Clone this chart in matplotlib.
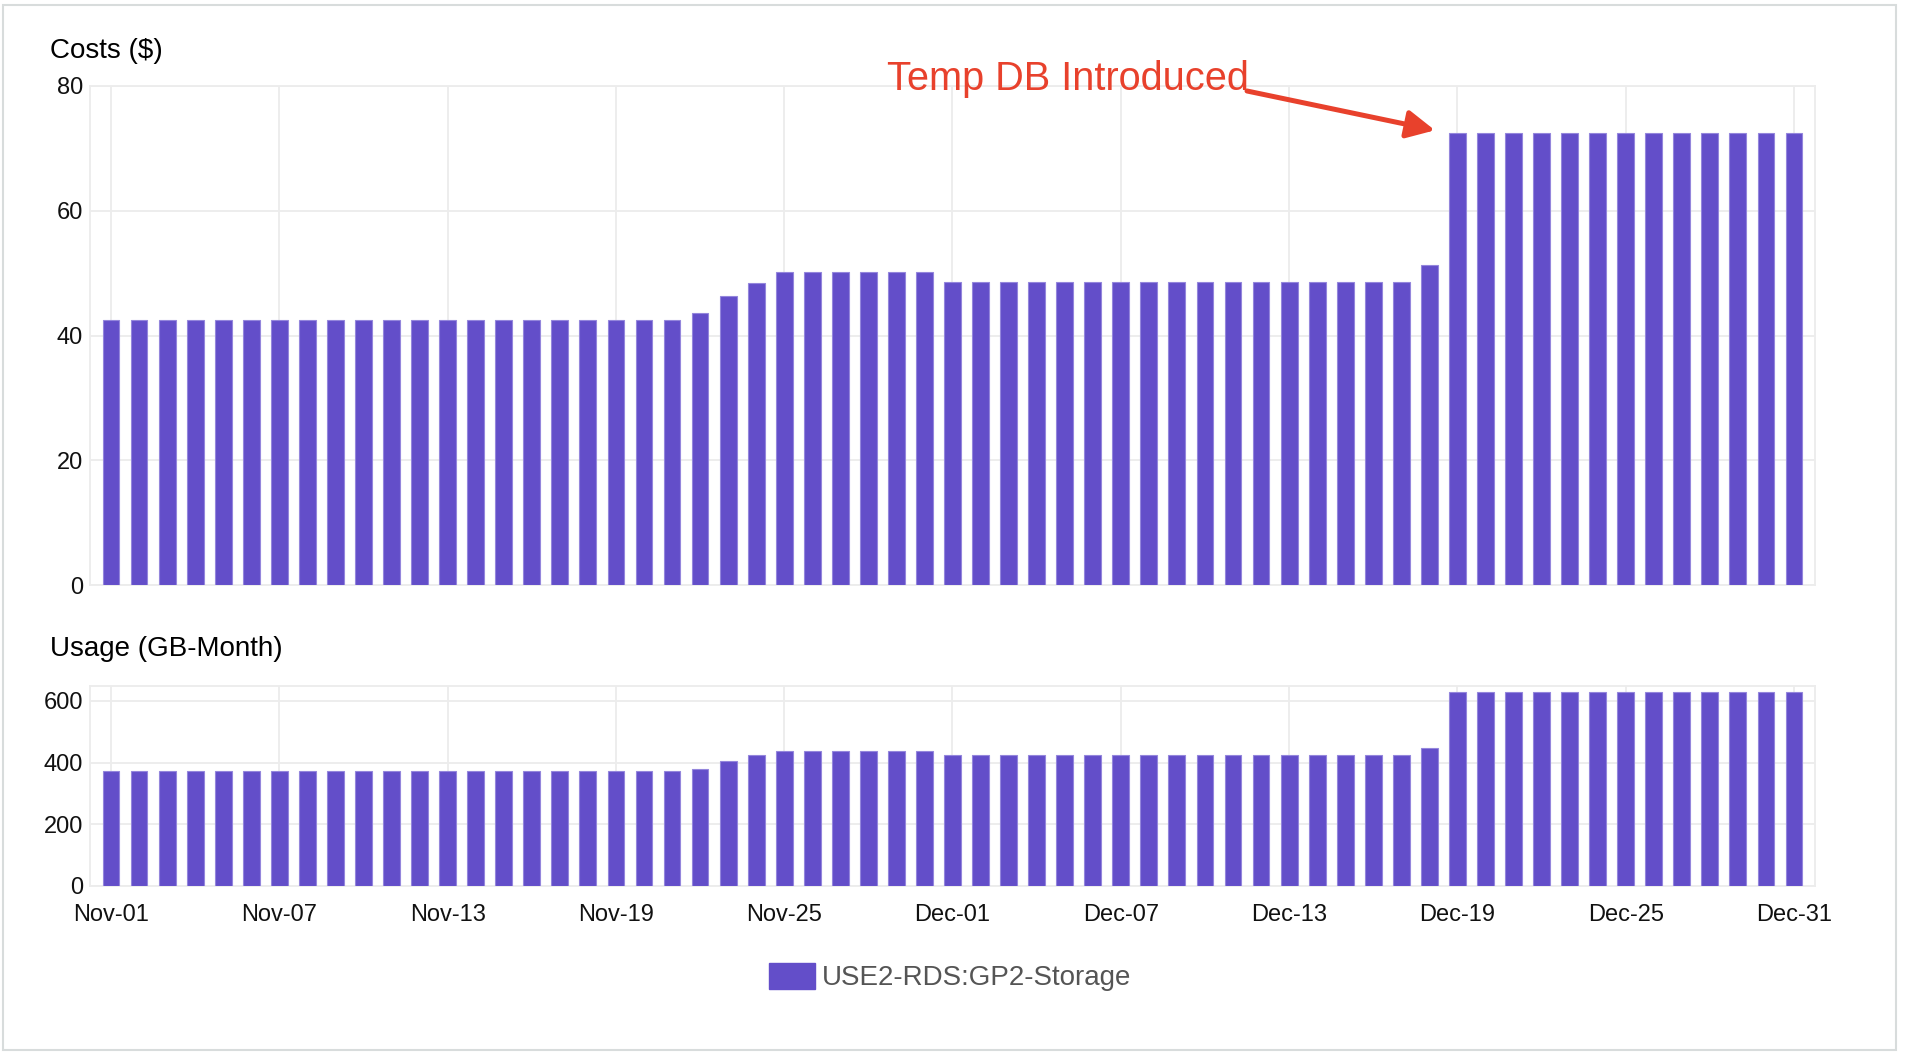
import numpy as np
import pandas as pd
import matplotlib
matplotlib.use("Agg")
import matplotlib.pyplot as plt
from matplotlib.patches import Patch, Rectangle

plt.rcParams['font.family'] = ['Liberation Sans', 'DejaVu Sans']

# daily values, Nov-01 .. Dec-31
days = pd.date_range("2023-11-01", "2023-12-31", freq="D")
day_labels = [d.strftime("%b-%d") for d in days]

costs = [
    42.5, 42.5, 42.5, 42.5, 42.5, 42.5, 42.5, 42.5, 42.5, 42.5,
    42.5, 42.5, 42.5, 42.5, 42.5, 42.5, 42.5, 42.5, 42.5, 42.5,
    42.5, 43.6, 46.3, 48.4, 50.2, 50.2, 50.2, 50.2, 50.2, 50.2,
    48.6, 48.6, 48.6, 48.6, 48.6, 48.6, 48.6, 48.6, 48.6, 48.6,
    48.6, 48.6, 48.6, 48.6, 48.6, 48.6, 48.6, 51.3, 72.4, 72.4,
    72.4, 72.4, 72.4, 72.4, 72.4, 72.4, 72.4, 72.4, 72.4, 72.4,
    72.4,
]
usage = [
    371, 371, 371, 371, 371, 371, 371, 371, 371, 371,
    371, 371, 371, 371, 371, 371, 371, 371, 371, 371,
    371, 380, 404, 423, 437, 437, 437, 437, 437, 437,
    424, 424, 424, 424, 424, 424, 424, 424, 424, 424,
    424, 424, 424, 424, 424, 424, 424, 448, 630, 630,
    630, 630, 630, 630, 630, 630, 630, 630, 630, 630,
    630,
]
series_name = "USE2-RDS:GP2-Storage"
cost_ticks = [0, 20, 40, 60, 80]
usage_ticks = [0, 200, 400, 600]

bar_color = "#634ec9"
edge_color = "#9486dc"
grid_color = "#ececec"
red = "#e8412c"

W, H = 1908, 1064
fig = plt.figure(figsize=(W / 100, H / 100), dpi=100)

x = np.arange(len(days))
xticks = x[::6]

def frac_x(px):
    return px / W

def frac_y(py):
    return 1 - py / H

left, right = frac_x(90), frac_x(1815)
ax1 = fig.add_axes([left, frac_y(585), right - left, frac_y(86) - frac_y(585)])
ax2 = fig.add_axes([left, frac_y(886), right - left, frac_y(686) - frac_y(886)])

for ax, vals, yt in [(ax1, costs, cost_ticks), (ax2, usage, usage_ticks)]:
    ax.bar(x, vals, width=0.6, color=bar_color, edgecolor=edge_color, linewidth=0.8, zorder=3)
    ax.set_xlim(-0.75, len(days) - 0.25)
    ax.set_yticks(yt)
    ax.set_xticks(xticks)
    ax.grid(True, color=grid_color, linewidth=1.3, zorder=0)
    ax.set_axisbelow(True)
    for s in ax.spines.values():
        s.set_color(grid_color)
        s.set_linewidth(1.3)
    ax.tick_params(length=0, labelsize=17, colors="#111111", pad=5)

ax1.set_ylim(0, 80)
ax1.set_xticklabels([])
ax2.set_ylim(0, 648)
ax2.set_xticklabels([day_labels[i] for i in xticks])
ax2.tick_params(axis="x", pad=13)

fig.text(frac_x(50), frac_y(51.5), "Costs ($)", fontsize=20, ha="left", va="center", color="black")
fig.text(frac_x(50), frac_y(649.5), "Usage (GB-Month)", fontsize=20, ha="left", va="center", color="black")

# annotation
ax1.text(34.1, 81.2, "Temp DB Introduced", color=red, fontsize=28.6, ha="center", va="center",
         clip_on=False)
ax1.annotate("", xy=(47.2, 72.9), xytext=(40.5, 79.2), annotation_clip=False,
             arrowprops=dict(arrowstyle="-|>,head_length=1.0,head_width=0.5", mutation_scale=17,
                             color=red, lw=3.6, shrinkA=0, shrinkB=0))

fig.legend(handles=[Patch(facecolor=bar_color, edgecolor=bar_color, label=series_name)],
           loc="center", bbox_to_anchor=(frac_x(950), frac_y(977)), frameon=False,
           fontsize=20, handlelength=1.65, handleheight=1.08, handletextpad=0.25,
           labelcolor="#555555")

fig.patches.append(Rectangle((3 / W, frac_y(1050)), (1896 - 3) / W, (1050 - 5) / H,
                             transform=fig.transFigure, fill=False, edgecolor="#d8dcdc",
                             linewidth=1.5))

fig.savefig("out.png", dpi=100)
